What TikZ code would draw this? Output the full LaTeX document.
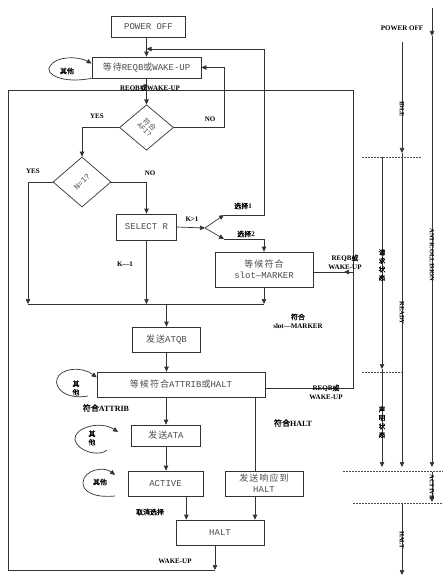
\documentclass[tikz,border=0pt]{standalone}
\usepackage{fontspec}
\setmainfont{Liberation Serif}
\setmonofont{Liberation Mono}
\newfontfamily\cjk[LetterSpace=12]{Noto Sans CJK SC}
\newfontfamily\cjkb[AutoFakeBold=1.5]{Noto Sans CJK SC}
\newcommand{\zh}[1]{{\cjk #1}}
\newcommand{\zb}[1]{{\cjkb\bfseries #1}}
\usetikzlibrary{arrows.meta,shapes.geometric,calc}
\begin{document}
\begin{tikzpicture}[x=1pt,y=-1pt,
  ln/.style={draw=black!80,line width=0.7pt},
  arr/.style={ln,-{Triangle[length=5pt,width=4.5pt]}},
  box/.style={draw=black!80,line width=0.7pt,inner sep=0pt,align=center,
     font=\ttfamily\fontsize{9}{11}\selectfont,text=black!70},
  dia/.style={draw=black!80,line width=0.7pt,diamond,inner sep=0pt,text=black!70},
  lab/.style={font=\bfseries\fontsize{7}{8.5}\selectfont,inner sep=0pt,align=center},
  vlab/.style={font=\bfseries\fontsize{6.5}{7}\selectfont,inner sep=0pt,rotate=-90},
  dsh/.style={draw=black!70,line width=0.6pt,dash pattern=on 1.5pt off 1.5pt},
]
\useasboundingbox (0,0) rectangle (443,585);
\fill[white] (0,0) rectangle (443,585);

% ---------- boxes ----------
\node[box,minimum width=74pt,minimum height=21pt] (pwr) at (148.5,26.5) {POWER OFF};
\node[box,minimum width=109pt,minimum height=21pt] (wait) at (146.5,67.5) {\zh{等待}REQB\zh{或}WAKE-UP};
\node[dia,minimum width=54pt,minimum height=44pt,font=\ttfamily\fontsize{7}{8}\selectfont] (d1) at (146.5,127.5)
   {\rotatebox{-45}{\begin{tabular}{@{}c@{}}\zh{符合}\\[-1pt]AFI?\end{tabular}}};
\node[dia,minimum width=58pt,minimum height=50pt,font=\ttfamily\fontsize{8}{9}\selectfont] (d2) at (82,182)
   {\rotatebox{45}{N=1?}};
\node[box,minimum width=60pt,minimum height=26pt] (sel) at (146.5,227) {SELECT R};
\node[box,minimum width=98pt,minimum height=35pt] (slot) at (264,269.5) {\zh{等候符合}\\slot—MARKER};
\node[box,minimum width=68pt,minimum height=25pt] (atqb) at (166.5,339.5) {\zh{发送}ATQB};
\node[box,minimum width=168pt,minimum height=25pt] (attrib) at (181,384.5) {\zh{等候符合}ATTRIB\zh{或}HALT};
\node[box,minimum width=69pt,minimum height=21pt] (ata) at (166,435.5) {\zh{发送}ATA};
\node[box,minimum width=75pt,minimum height=25pt] (active) at (165.5,483.5) {ACTIVE};
\node[box,minimum width=78pt,minimum height=25pt] (resp) at (264,483.5) {\zh{发送响应到}\\HALT};
\node[box,minimum width=88pt,minimum height=25pt] (halt) at (220,532.5) {HALT};

% ---------- helper coordinates ----------
\coordinate (j1) at (146.5,49);
\coordinate (c1r) at (264,49);
\coordinate (sp) at (205,228);
\coordinate (s1) at (224,215);
\coordinate (s2) at (224,239);
\coordinate (m1) at (28,304);
\coordinate (m2) at (146.5,304);
\coordinate (m3) at (264,304);
\coordinate (mA) at (166.5,304);
\coordinate (tr) at (353,90);
\coordinate (tl) at (8,90);
\coordinate (b1) at (215,570);
\coordinate (r1) at (353,272);
\coordinate (r1a) at (344,272);

% ---------- connectors ----------
\draw[arr] (pwr.south -| wait.north) -- (wait.north);
\draw[arr] (wait.south) -- (d1.north);
\draw[arr] (d1.west) -| (d2.north);
\draw[arr] (d1.east) -- ++(50,0) |- (wait.east);
\draw[arr] (d2.east) -| (sel.north);
\draw[arr] (d2.west) -| (m1);
\draw[arr] (sel.south) -- (m2);
\draw[arr] (slot.south) -- (m3);
\draw[ln] (m1) -- (m3);
\draw[arr] (mA) -- (atqb.north);
\draw[arr] (sel.east) -- (sp);
\draw[arr] (sp) -- (s1);
\draw[arr] (sp) -- (s2);
\draw[ln] (s1) -| (c1r);
\draw[arr] (c1r) -- (j1);
\draw[arr] (s2) -| (slot.north);
\draw[ln] (slot.east |- r1) -- (r1);
\draw[arr] (r1) -- (r1a);
\draw[arr] (atqb.south) -- (atqb.south |- attrib.north);
\draw[arr] (attrib.south -| ata.north) -- (ata.north);
\draw[ln] ([xshift=-10pt]attrib.south east) -- ([xshift=-10pt]attrib.south east |- resp.north);
\draw[arr] (ata.south) -- (ata.south |- active.north);
\draw[arr] ([xshift=-17pt]active.south east) -- ([xshift=-17pt]active.south east |- halt.north);
\draw[arr] ([xshift=-9pt]resp.south) -- ([xshift=-9pt]resp.south |- halt.north);
\draw[arr] ([xshift=-5pt]halt.south) -- (b1);
\draw[ln] ([yshift=-3.5pt]attrib.east) -| (tr) -- (tl) |- (b1);

% self loops
\draw[arr] (wait.south west) .. controls (62,84) and (44,74) .. (50,66)
   .. controls (56,56) and (78,56) .. ([yshift=4pt]wait.west);
\draw[arr] (88,396) .. controls (66,400) and (54,388) .. (57,379)
   .. controls (60,368) and (82,366) .. ([yshift=7pt]attrib.west);
\draw[arr] (107,450) .. controls (100,457) and (78,452) .. (75,440)
   .. controls (73,428) and (100,420) .. (118,432);
\draw[arr] (115,496) .. controls (95,498) and (82,492) .. (83,482)
   .. controls (84,470) and (104,466) .. (115,475);

% ---------- labels ----------
\node[lab] (lreq1) at (150,88) {REQB\zb{或}WAKE-UP};
\node[lab] (lyes1) at (97,116) {YES};
\node[lab] (lno1) at (210,119) {NO};
\node[lab] (lyes2) at (33,171) {YES};
\node[lab] (lno2) at (150,173) {NO};
\node[lab] (lk1) at (192,219) {K>1};
\node[lab] (lsel1) at (243,206) {\zb{选择}1};
\node[lab] (lsel2) at (246,234) {\zb{选择}2};
\node[lab] (lk2) at (125,264) {K—1};
\node[lab] (lreq2) at (345,262) {REQB\zb{或}\\WAKE-UP};
\node[lab] (lslot) at (298,321) {\zb{符合}\\slot—MARKER};
\node[lab] (lreq3) at (326,392) {REQB\zb{或}\\WAKE-UP};
\node[lab,font=\bfseries\fontsize{8}{9}\selectfont] (lattr) at (106,408) {\zb{符合}ATTRIB};
\node[lab,font=\bfseries\fontsize{8}{9}\selectfont] (lhalt) at (293,423) {\zb{符合}HALT};
\node[lab] (lcan) at (150,512) {\zb{取消选择}};
\node[lab] (lwake) at (175,561) {WAKE-UP};
\node[lab] (o1) at (67,71) {\zb{其他}};
\node[lab] (o2) at (76,388) {\zb{其}\\\zb{他}};
\node[lab] (o3) at (92,438) {\zb{其}\\\zb{他}};
\node[lab] (o4) at (100,482) {\zb{其他}};

% ---------- state column ----------
\coordinate (aT) at (432,8);
\coordinate (aP) at (432,36);
\coordinate (aE) at (432,467);
\coordinate (bT) at (402,42);
\coordinate (bI) at (402,153);
\coordinate (bE) at (402,467);
\coordinate (cT) at (382,157);
\coordinate (cM) at (382,369);
\coordinate (cE) at (382,467);
\coordinate (aA1) at (432,472);
\coordinate (aA2) at (432,502);
\coordinate (hT) at (402,503);
\coordinate (hE) at (402,575);
\draw[arr] (aT) -- (aP);
\draw[arr] (aP) -- (aE);
\draw[arr] (bT) -- (bI);
\draw[arr] (bI) -- (bE);
\draw[arr] (cT) -- (cM);
\draw[arr] (cM) -- (cE);
\draw[arr] (aA1) -- (aA2);
\draw[arr] (hT) -- (hE);
\draw[dsh] (362,157) -- (422,157);
\draw[dsh] (362,372) -- (402,372);
\draw[dsh] (343,471) -- (443,471);
\draw[dsh] (353,503) -- (443,503);

\node[lab] (spo) at (402,28) {POWER OFF};
\node[vlab] (sidle) at (402,109) {IDLE};
\node[vlab] (sready) at (402,313) {READY};
\node[vlab] (santi) at (432,255) {ANTICOLLISION};
\node[vlab] (sact) at (432,487) {ACTIVE};
\node[vlab] (shalt) at (402,540) {HALT};
\node[lab,font=\fontsize{6.5}{8.5}\selectfont] (sreq) at (382,265) {\zb{请}\\\zb{求}\\\zb{状}\\\zb{态}};
\node[lab,font=\fontsize{6.5}{8.5}\selectfont] (sdec) at (382,422) {\zb{声}\\\zb{明}\\\zb{状}\\\zb{态}};
\end{tikzpicture}
\end{document}
